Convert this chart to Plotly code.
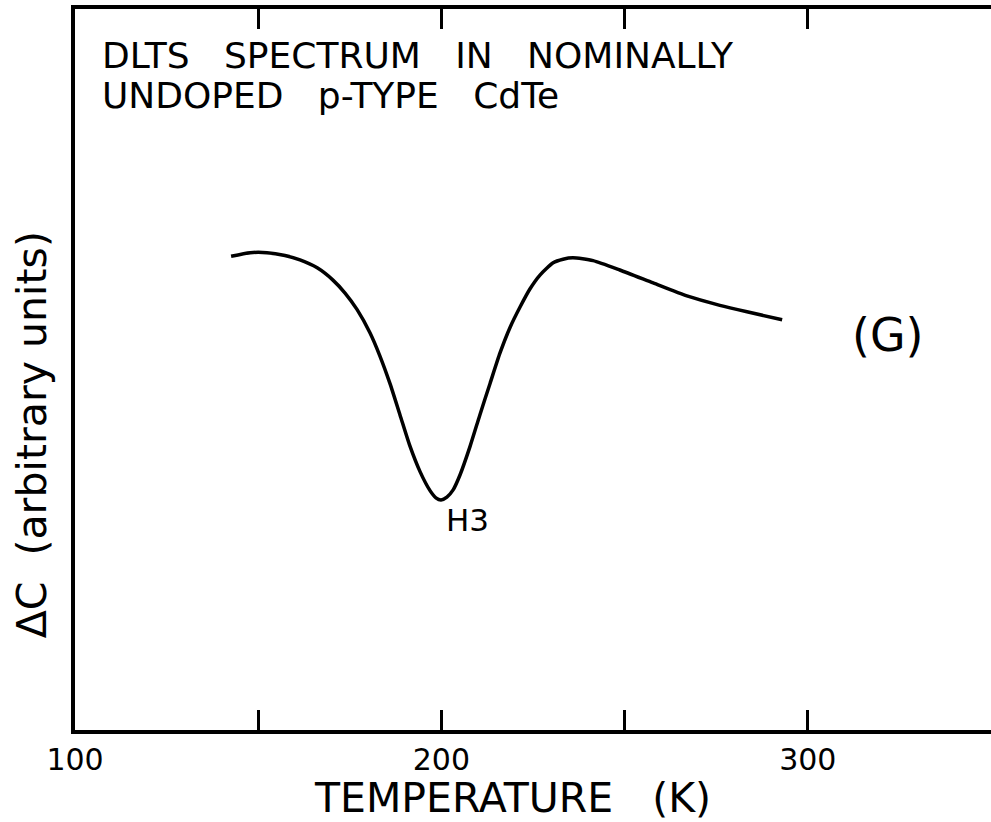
import plotly.graph_objects as go

# DLTS spectrum of nominally undoped p-type CdTe
temperature_k = [142.6, 147.8, 152.4, 157.3, 161.4, 166.1, 170.4, 173.7, 177.0, 180.5,
                 183.2, 186.0, 188.7, 191.4, 194.2, 196.9, 198.5, 199.9, 201.5, 203.2,
                 205.1, 207.8, 210.5, 213.3, 216.0, 218.7, 221.5, 224.2, 226.9, 230.5,
                 233.2, 235.9, 241.4, 248.7, 257.8, 267.0, 276.0, 283.4, 293.0]
delta_c = [65.7, 66.2, 66.2, 65.8, 65.2, 64.1, 62.4, 60.6, 58.3, 55.1,
           51.9, 48.0, 43.7, 39.4, 35.8, 33.2, 32.2, 31.9, 32.3, 33.3,
           35.4, 39.3, 43.7, 48.1, 52.3, 55.8, 58.7, 61.2, 63.1, 64.8,
           65.3, 65.5, 65.1, 63.8, 62.0, 60.2, 58.9, 58.0, 56.9]

x_tick_values = [100, 150, 200, 250, 300]
x_tick_labels = ["100", "", "200", "", "300"]

GAP = "\u00a0" * 3
title_lines = [GAP.join(["DLTS", "SPECTRUM", "IN", "NOMINALLY"]),
               GAP.join(["UNDOPED", "p-TYPE", "CdTe"])]
x_title = "TEMPERATURE\u00a0\u00a0\u00a0(K)"
y_title = "\u0394C\u00a0\u00a0(arbitrary units)"
peak_label = "H3"
peak_temperature = 200.0
sample_label = "(G)"

FONT = "DejaVu Sans"
INK = "black"

fig = go.Figure()
fig.add_trace(go.Scatter(
    x=temperature_k, y=delta_c, mode="lines",
    line=dict(color=INK, width=3.5, shape="spline", smoothing=0.6),
    hoverinfo="skip", showlegend=False,
))

fig.update_layout(
    width=991, height=822,
    margin=dict(l=75, r=0, t=9, b=92),
    paper_bgcolor="white", plot_bgcolor="white",
    font=dict(family=FONT, color=INK),
    xaxis=dict(
        range=[100, 350], showgrid=False, zeroline=False,
        showline=True, linecolor=INK, linewidth=3.5, mirror="ticks",
        ticks="inside", ticklen=20, tickwidth=2.5, tickcolor=INK,
        tickvals=x_tick_values, ticktext=x_tick_labels,
        tickfont=dict(size=30, family=FONT, color=INK),
    ),
    yaxis=dict(
        range=[0, 100], showgrid=False, zeroline=False,
        showline=True, linecolor=INK, linewidth=3.5,
        showticklabels=False, ticks="",
    ),
)

annotations = [
    dict(text=title_lines[0], xref="paper", yref="paper", x=0.027, y=0.936,
         xanchor="left", yanchor="middle", showarrow=False, font=dict(size=36)),
    dict(text=title_lines[1], xref="paper", yref="paper", x=0.027, y=0.880,
         xanchor="left", yanchor="middle", showarrow=False, font=dict(size=36)),
    dict(text=x_title, xref="paper", yref="paper", x=0.478, y=-0.094,
         xanchor="center", yanchor="middle", showarrow=False, font=dict(size=41)),
    dict(text=peak_label, x=peak_temperature + 7, y=min(delta_c) - 2.8, xref="x", yref="y",
         xanchor="center", yanchor="middle", showarrow=False, font=dict(size=31)),
    dict(text=sample_label, x=322, y=54.8, xref="x", yref="y",
         xanchor="center", yanchor="middle", showarrow=False, font=dict(size=46)),
    dict(text=y_title, xref="paper", yref="paper", x=-0.046, y=0.41,
         xanchor="center", yanchor="middle", textangle=-90, showarrow=False,
         font=dict(size=41)),
]
fig.update_layout(annotations=annotations)

fig.write_html("out.html")
